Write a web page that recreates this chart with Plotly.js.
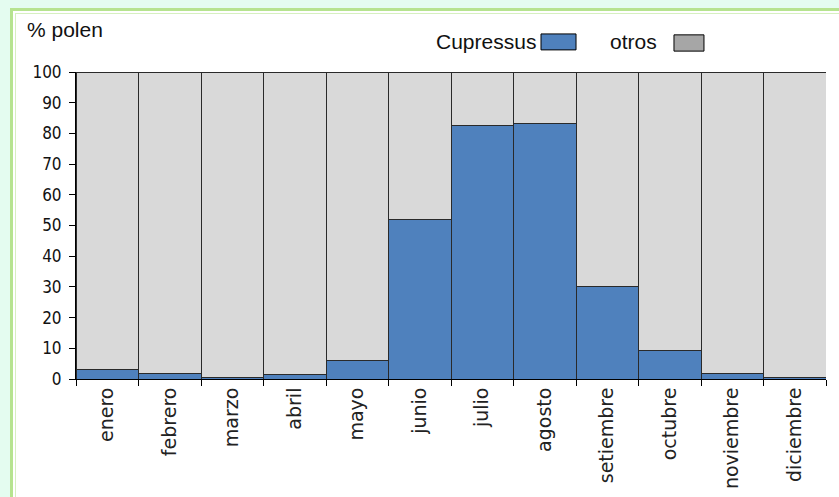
<!DOCTYPE html>
<html><head><meta charset="utf-8">
<script src="https://cdn.plot.ly/plotly-3.0.1.min.js"></script>
<style>
html,body{margin:0;padding:0;width:839px;height:497px;overflow:hidden;background:#e4fcf0;}
#frame{position:absolute;left:10px;top:8px;width:840px;height:500px;background:#ffffff;border-left:3px solid #b6e38f;border-top:3px solid #b6e38f;box-shadow:inset 2px 2px 0 #ffffff, inset 3px 3px 0 #d6f0c0;}
#chart{position:absolute;left:0;top:0;width:839px;height:497px;}
</style></head>
<body>
<div id="frame"></div>
<div id="chart"></div>
<script>
const months = ["enero","febrero","marzo","abril","mayo","junio","julio","agosto","setiembre","octubre","noviembre","diciembre"];
const cupressus = [3.2, 1.9, 0.4, 1.4, 6.0, 51.9, 82.7, 83.2, 30.0, 9.2, 1.8, 0.4];
const otros = [96.8, 98.1, 99.6, 98.6, 94.0, 48.1, 17.3, 16.8, 70.0, 90.8, 98.2, 99.6];

function hasFont(name) {
  const c = document.createElement("canvas").getContext("2d");
  const s = "100 mmmwwwiii";
  c.font = "20px monospace"; const a = c.measureText(s).width;
  c.font = "20px '" + name + "', monospace"; const b = c.measureText(s).width;
  c.font = "20px serif"; const a2 = c.measureText(s).width;
  c.font = "20px '" + name + "', serif"; const b2 = c.measureText(s).width;
  return a !== b || a2 !== b2;
}
const narrowCands = ["Liberation Sans Narrow", "DejaVu Sans Condensed", "Arial Narrow"];
let narrow = null;
for (const f of narrowCands) { if (hasFont(f)) { narrow = f; break; } }

const sans = "Liberation Sans, Arial, sans-serif";
const txtFont = {family: sans, size: 21, color: "#111"};
const yFont = narrow ? {family: narrow, size: narrow === "DejaVu Sans Condensed" ? 17 : 19, color: "#111"}
                     : {family: sans, size: 16, color: "#111"};
const xFont = {family: "DejaVu Sans, Verdana, sans-serif", size: 19, color: "#222"};
const line = {color: "#2a2a2a", width: 1};

const data = [
  {type: "bar", name: "Cupressus", x: months, y: cupressus, marker: {color: "#4f81bd", line: line}, hoverinfo: "skip"},
  {type: "bar", name: "otros", x: months, y: otros, marker: {color: "#d9d9d9", line: line}, hoverinfo: "skip"}
];

const layout = {
  width: 839, height: 497,
  margin: {l: 76, r: 13, t: 72, b: 118},
  paper_bgcolor: "rgba(0,0,0,0)",
  plot_bgcolor: "rgba(0,0,0,0)",
  barmode: "stack",
  bargap: 0,
  showlegend: false,
  font: txtFont,
  xaxis: {
    type: "category", tickangle: -90, ticks: "outside", tickson: "boundaries",
    ticklen: 6, tickcolor: "#000", showline: true, linecolor: "#000", linewidth: 1,
    showgrid: false, tickfont: xFont, fixedrange: true
  },
  yaxis: {
    range: [0, 100], dtick: 10, ticks: "outside", ticklen: 6, tickcolor: "#000",
    showline: true, linecolor: "#000", linewidth: 1, showgrid: false, zeroline: false,
    tickfont: yFont, ticklabelstandoff: 4, fixedrange: true
  },
  annotations: [
    {xref: "paper", yref: "paper", x: -0.068, y: 1.14, xanchor: "left", yanchor: "middle", text: "% polen", showarrow: false, font: txtFont},
    {xref: "paper", yref: "paper", x: 0.616, y: 1.098, xanchor: "right", yanchor: "middle", text: "Cupressus", showarrow: false, font: txtFont},
    {xref: "paper", yref: "paper", x: 0.777, y: 1.098, xanchor: "right", yanchor: "middle", text: "otros", showarrow: false, font: txtFont}
  ],
  shapes: [
    {type: "rect", xref: "paper", yref: "paper", x0: 0.6200, x1: 0.6667, y0: 1.072, y1: 1.124, fillcolor: "#4f81bd", line: {color: "#000", width: 1}},
    {type: "rect", xref: "paper", yref: "paper", x0: 0.7973, x1: 0.8373, y0: 1.068, y1: 1.121, fillcolor: "#a6a6a6", line: {color: "#000", width: 1}}
  ]
};

Plotly.newPlot("chart", data, layout, {staticPlot: true, displayModeBar: false});
</script>
</body></html>
